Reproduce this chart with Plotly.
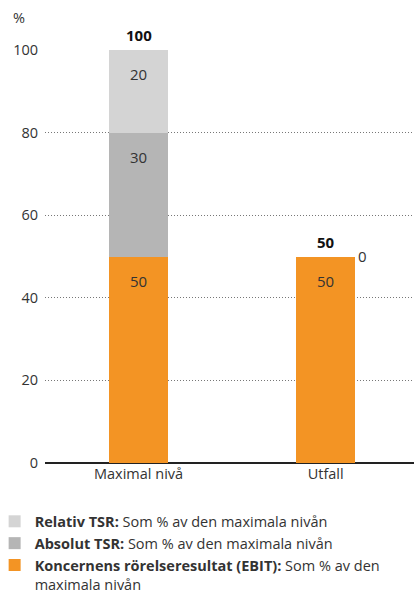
import plotly.graph_objects as go

categories = ["Maximal nivå", "Utfall"]
ebit = [50, 50]
absolut_tsr = [30, 0]
relativ_tsr = [20, 0]
totals = [100, 50]

series_names = [
    "<b>Koncernens rörelseresultat (EBIT):</b> Som % av den<br>maximala nivån",
    "<b>Absolut TSR:</b> Som % av den maximala nivån",
    "<b>Relativ TSR:</b> Som % av den maximala nivån",
]
colors = ["#f39424", "#b5b5b5", "#d4d4d4"]
yticks = [0, 20, 40, 60, 80, 100]

FONT = "Open Sans"
TXT = "#333333"

fig = go.Figure()
stack = [ebit, absolut_tsr, relativ_tsr]
for vals, name, col in zip(stack, series_names, colors):
    fig.add_trace(go.Bar(
        x=categories, y=vals, name=name, marker_color=col,
        marker_line_width=0, width=0.315, hoverinfo="skip",
    ))

annotations = []
for i, cat in enumerate(categories):
    base = 0
    for vals in stack:
        v = vals[i]
        if v > 0:
            annotations.append(dict(x=cat, y=base + v, text=str(v), showarrow=False,
                                    yanchor="middle", yshift=-24,
                                    font=dict(family=FONT, size=15, color=TXT)))
        base += v
    annotations.append(dict(x=cat, y=totals[i], text=f"<b>{totals[i]}</b>", showarrow=False,
                            yanchor="middle", yshift=15,
                            font=dict(family=FONT, size=15, color="#111111")))
annotations.append(dict(x=categories[1], y=totals[1], text=str(absolut_tsr[1]), showarrow=False,
                        xanchor="center", yanchor="middle", xshift=37, yshift=1,
                        font=dict(family=FONT, size=15, color=TXT)))
annotations.append(dict(xref="paper", yref="paper", x=-26 / 369, y=1 + 33 / 413, text="%",
                        showarrow=False, xanchor="center", yanchor="middle",
                        font=dict(family=FONT, size=14.5, color=TXT)))

fig.update_layout(
    width=414, height=591,
    margin=dict(l=45, r=0, t=50, b=128, autoexpand=False),
    plot_bgcolor="white", paper_bgcolor="white",
    barmode="stack",
    font=dict(family=FONT, size=14.5, color=TXT),
    showlegend=True,
    legend=dict(
        orientation="v", traceorder="reversed", x=-0.1365, xanchor="left",
        y=-0.1026, yanchor="top", valign="top",
        font=dict(family=FONT, size=14.5, color=TXT),
        itemwidth=30, tracegroupgap=0, bgcolor="rgba(0,0,0,0)",
    ),
    annotations=annotations,
    xaxis=dict(range=[-0.5, 1.472], showgrid=False, showline=False, ticks="",
               tickfont=dict(family=FONT, size=14.5, color=TXT), zeroline=False),
    yaxis=dict(range=[0, 100], tickvals=yticks, showgrid=True, gridcolor="#777777",
               griddash="1px,2px", gridwidth=1, zeroline=True, zerolinecolor="#222222",
               zerolinewidth=2, showline=False, ticks="", ticklabelstandoff=6,
               tickfont=dict(family=FONT, size=14.5, color=TXT)),
)

fig.write_html("out.html", config={"displayModeBar": False},
               post_script="document.body.style.margin='0';")
